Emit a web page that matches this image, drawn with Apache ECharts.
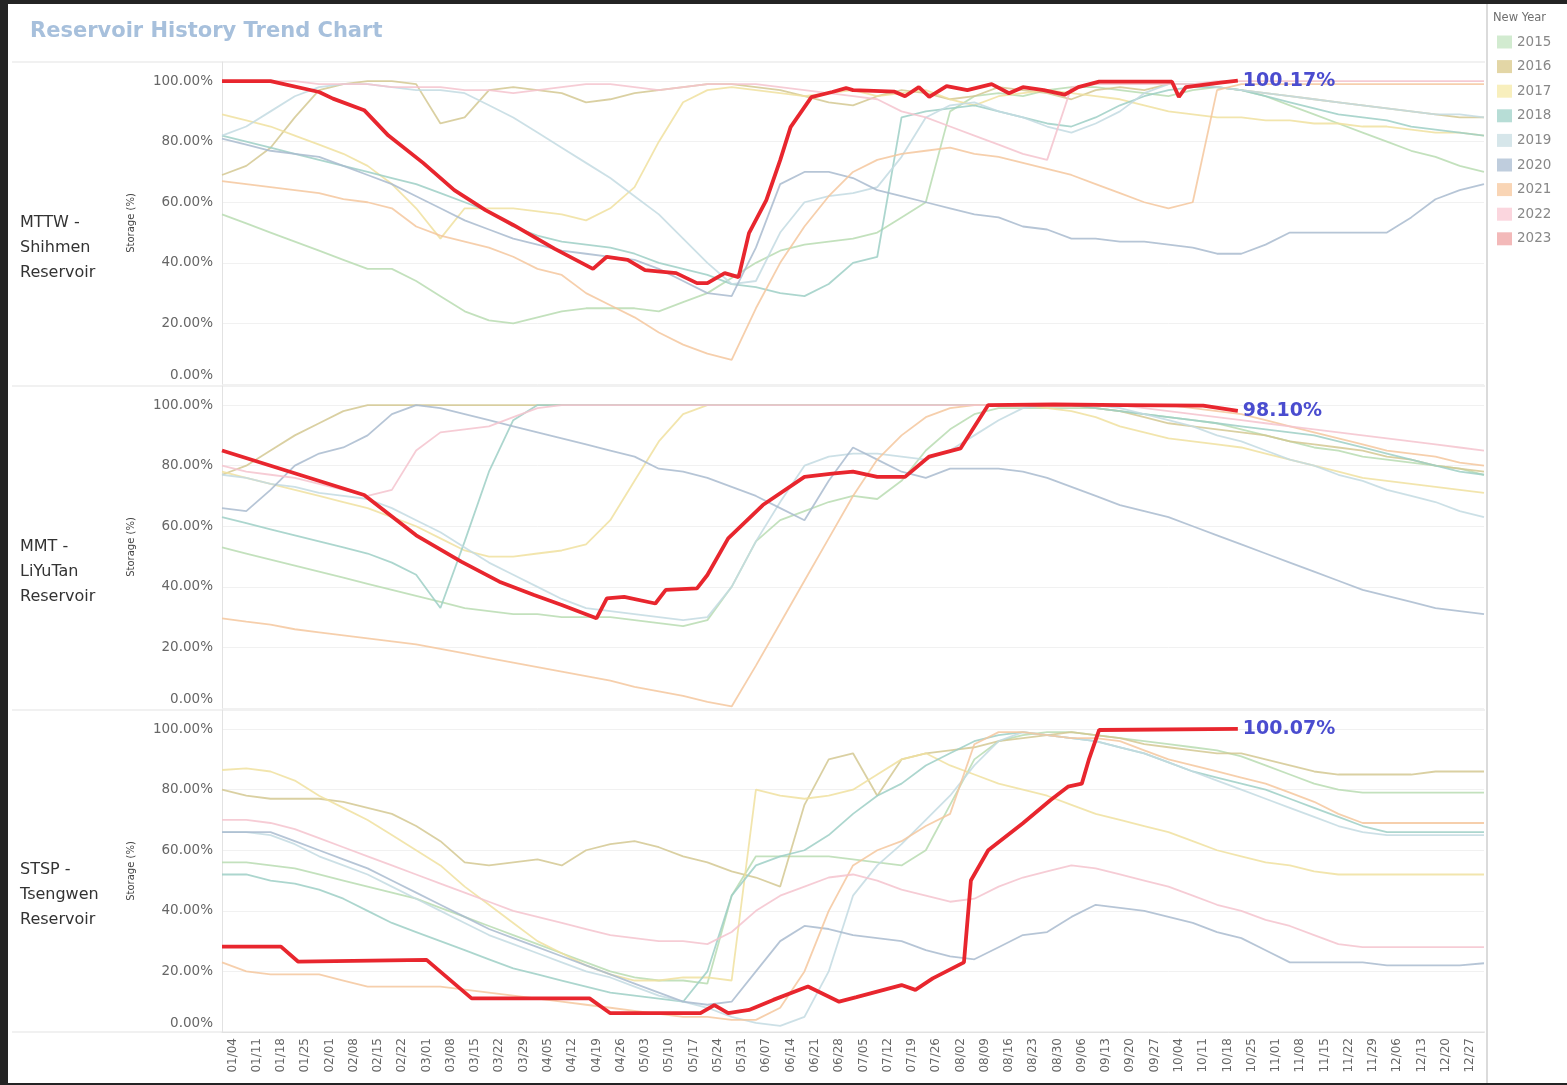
<!DOCTYPE html>
<html><head><meta charset="utf-8">
<script src="https://cdn.jsdelivr.net/npm/echarts@6/dist/echarts.min.js"></script>
<style>
html,body{margin:0;padding:0;background:#242424;width:1567px;height:1085px;overflow:hidden}
#c{position:absolute;left:8px;top:4px;width:1559px;height:1079px;background:#fff}
</style></head><body><div id="c"></div>
<script>
// ---------- categories / ticks ----------
const categories = [];
for (let d = 0; d < 365; d++) {
  const dt = new Date(Date.UTC(2023, 0, 1 + d));
  categories.push(String(dt.getUTCMonth() + 1).padStart(2, '0') + '/' + String(dt.getUTCDate()).padStart(2, '0'));
}
const tickLabels = ['01/04','01/11','01/18','01/25','02/01','02/08','02/15','02/22','03/01','03/08','03/15','03/22','03/29','04/05','04/12','04/19','04/26','05/03','05/10','05/17','05/24','05/31','06/07','06/14','06/21','06/28','07/05','07/12','07/19','07/26','08/02','08/09','08/16','08/23','08/30','09/06','09/13','09/20','09/27','10/04','10/11','10/18','10/25','11/01','11/08','11/15','11/22','11/29','12/06','12/13','12/20','12/27'];
const sampleDays = [0,7,14,21,28,35,42,49,56,63,70,77,84,91,98,105,112,119,126,133,140,147,154,161,168,175,182,189,196,203,210,217,224,231,238,245,252,259,266,273,280,287,294,301,308,315,322,329,336,343,350,357,364];
const reservoirs = ['MTTW -\nShihmen\nReservoir', 'MMT -\nLiYuTan\nReservoir', 'STSP -\nTsengwen\nReservoir'];
const years = ['2015','2016','2017','2018','2019','2020','2021','2022','2023'];
const yTicks = [0,20,40,60,80,100];

// ---------- MTTW - Shihmen (weekly samples) ----------
const shihmen2015 = [56,53,50,47,44,41,38,38,34,29,24,21,20,22,24,25,25,25,24,27,30,35,40,44,46,47,48,50,55,60,90,95,96,95,97,98,98,97,96,95,97,98,97,95,92,89,86,83,80,77,75,72,70];
const shihmen2016 = [69,72,78,88,97,99,100,100,99,86,88,97,98,97,96,93,94,96,97,98,99,99,98,97,95,93,92,95,97,96,94,95,98,97,96,94,97,98,97,99,99,98,97,96,95,94,93,92,91,90,89,88,88];
const shihmen2017 = [89,87,85,82,79,76,72,66,58,48,58,58,58,57,56,54,58,65,80,93,97,98,97,96,95,96,97,95,96,97,94,92,95,96,97,96,95,94,92,90,89,88,88,87,87,86,86,85,85,84,83,83,82];
const shihmen2018 = [82,80,78,76,74,72,70,68,66,63,60,57,52,49,47,46,45,43,40,38,36,33,32,30,29,33,40,42,88,90,91,92,90,88,86,85,88,92,95,97,98,98,97,95,93,91,89,88,87,85,84,83,82];
const shihmen2019 = [82,85,90,95,98,99,99,98,97,97,96,92,88,83,78,73,68,62,56,48,40,33,34,50,60,62,63,65,75,88,92,93,90,88,85,83,86,90,96,99,99,98,97,96,95,94,93,92,91,90,89,89,88];
const shihmen2020 = [81,79,77,76,75,72,69,66,62,58,54,51,48,46,44,43,42,41,38,34,30,29,45,66,70,70,68,64,62,60,58,56,55,52,51,48,48,47,47,46,45,43,43,46,50,50,50,50,50,55,61,64,66];
const shihmen2021 = [67,66,65,64,63,61,60,58,52,49,47,45,42,38,36,30,26,22,17,13,10,8,25,40,52,62,70,74,76,77,78,76,75,73,71,69,66,63,60,58,60,97,99,99,99,99,99,99,99,99,99,99,99];
const shihmen2022 = [100,100,100,100,99,99,99,98,98,98,97,97,96,97,98,99,99,98,97,98,99,99,99,98,97,96,95,94,90,88,85,82,79,76,74,98,99,99,99,99,99,100,100,100,100,100,100,100,100,100,100,100,100];
const shihmen2023Days = [0,14,28,32,41,48,58,67,76,84,96,107,111,117,122,131,137,140,145,149,152,157,161,164,170,176,180,182,194,197,201,204,209,215,222,227,231,237,243,247,253,274,276,278,288,293];
const shihmen2023 = [100,100,96.4,94.2,90.4,82,73,64,57.4,52.5,44.6,38,42,41,37.6,36.6,33.3,33.3,36.6,35.3,49.8,60.7,73.9,84.8,94.7,96.4,97.7,97,96.5,95,98,94.8,98.3,97,99,96,98,97,95.5,98,99.8,99.8,94.8,98,99.5,100.17];

// ---------- MMT - LiYuTan ----------
const liyutan2015 = [53,51,49,47,45,43,41,39,37,35,33,32,31,31,30,30,30,29,28,27,29,40,55,62,65,68,70,69,75,85,92,97,99,99,99,99,99,98,97,96,95,94,92,90,88,86,85,83,82,81,80,79,77];
const liyutan2016 = [77,80,85,90,94,98,100,100,100,100,100,100,100,100,100,100,100,100,100,100,100,100,100,100,100,100,100,100,100,100,100,100,100,100,100,100,99,98,96,94,93,92,91,90,88,87,86,85,83,82,80,79,78];
const liyutan2017 = [78,76,74,72,70,68,66,63,60,56,52,50,50,51,52,54,62,75,88,97,100,100,100,100,100,100,100,100,100,100,100,100,100,100,99,98,96,93,91,89,88,87,86,84,82,80,78,76,75,74,73,72,71];
const liyutan2018 = [63,61,59,57,55,53,51,48,44,33,55,78,95,100,100,100,100,100,100,100,100,100,100,100,100,100,100,100,100,100,100,100,100,100,100,100,99,98,97,96,95,94,93,92,91,90,88,86,84,82,80,78,77];
const liyutan2019 = [77,76,74,73,71,70,69,66,62,58,53,48,44,40,36,33,32,31,30,29,30,40,55,68,80,83,84,84,83,82,85,90,95,99,100,100,100,99,97,95,93,90,88,85,82,80,77,75,72,70,68,65,63];
const liyutan2020 = [66,65,72,80,84,86,90,97,100,99,97,95,93,91,89,87,85,83,79,78,76,73,70,66,62,75,86,82,78,76,79,79,79,78,76,73,70,67,65,63,60,57,54,51,48,45,42,39,37,35,33,32,31];
const liyutan2021 = [29.6,28.5,27.5,26,25,24,23,22,21,19.5,18,16.5,15,13.5,12,10.5,9,7,5.5,4,2,0.5,14,28,42,56,70,82,90,96,99,100,100,100,100,100,100,100,100,100,99,98,97,95,93,91,89,87,85,84,83,81,80];
const liyutan2022 = [80,78,77,76,74,72,70,72,85,91,92,93,96,99,100,100,100,100,100,100,100,100,100,100,100,100,100,100,100,100,100,100,100,100,100,100,100,100,99,98,97,96,95,94,93,92,91,90,89,88,87,86,85];
const liyutan2023Days = [0,41,56,69,80,90,98,108,111,116,125,128,137,140,146,156,168,176,182,189,197,204,213,221,240,260,283,293];
const liyutan2023 = [85,70.3,57,48.3,41.7,37.3,34,29.6,36.2,36.7,34.5,39,39.5,43.9,56,67,76.3,77.4,78,76.3,76.3,83,85.7,100,100.2,100,99.8,98.1];

// ---------- STSP - Tsengwen ----------
const tsengwen2015 = [56,56,55,54,52,50,48,46,44,41,38,35,32,29,26,23,20,18,17,17,16,45,58,58,58,58,57,56,55,60,75,90,96,98,99,99,98,97,96,95,94,93,91,88,85,82,80,79,79,79,79,79,79];
const tsengwen2016 = [80,78,77,77,77,76,74,72,68,63,56,55,56,57,55,60,62,63,61,58,56,53,51,48,75,90,92,78,90,92,93,94,96,97,98,99,98,97,95,94,93,92,92,90,88,86,85,85,85,85,86,86,86];
const tsengwen2017 = [86.5,87,86,83,78,74,70,65,60,55,48,42,36,30,26,22,19,17,17,18,18,17,80,78,77,78,80,85,90,92,88,85,82,80,78,75,72,70,68,66,63,60,58,56,55,53,52,52,52,52,52,52,52];
const tsengwen2018 = [52,52,50,49,47,44,40,36,33,30,27,24,21,19,17,15,13,12,11,10,20,45,55,58,60,65,72,78,82,88,92,96,98,99,98,97,96,94,92,89,86,84,82,80,77,74,71,68,66,66,66,66,66];
const tsengwen2019 = [66,66,65,62,58,55,52,48,44,40,36,32,29,26,23,20,18,15,12,10,8,5,3,2,5,20,45,55,62,70,78,88,96,99,98,97,96,94,92,89,86,83,80,77,74,71,68,66,65,65,65,65,65];
const tsengwen2020 = [66,66,66,63,60,57,54,50,46,42,38,34,31,28,25,22,19,16,13,10,9,10,20,30,35,34,32,31,30,27,25,24,28,32,33,38,42,41,40,38,36,33,31,27,23,23,23,23,22,22,22,22,22.7];
const tsengwen2021 = [23,20,19,19,19,17,15,15,15,15,14,13,12,11,10,9,8,7,6,5,5,4,4,8,20,40,55,60,63,68,72,95,99,99,98,97,97,96,93,90,88,86,84,82,79,76,72,69,69,69,69,69,69];
const tsengwen2022 = [70,70,69,67,64,61,58,55,52,49,46,43,40,38,36,34,32,31,30,30,29,33,40,45,48,51,52,50,47,45,43,44,48,51,53,55,54,52,50,48,45,42,40,37,35,32,29,28,28,28,28,28,28];
const tsengwen2023Days = [0,17,22,59,72,106,112,138,142,146,152,159,169,178,183,196,200,205,214,216,221,231,239,244,248,250,253,293];
const tsengwen2023 = [28.2,28.2,23.2,23.8,11.1,11.1,6.2,6.2,8.9,6.2,7.3,10.6,15,10,11.5,15.5,13.9,17.7,23,50,60,68.9,76.6,81,82,89.8,99.7,100.07];

// ---------- colours ----------
const lineColors = ['#b8dcb1','#d4c892','#f0e19f','#9ecfc5','#c3dbe2','#a9bbcf','#f4c79e','#f5c3ce','#e8262e'];
const legendColors = ['#d2ebd0','#e3d6a6','#f8efbd','#b7ddd6','#d6e6ea','#bfcddd','#f9d5b5','#fbd6de','#f3b9b9'];

const faded = [
  [shihmen2015, shihmen2016, shihmen2017, shihmen2018, shihmen2019, shihmen2020, shihmen2021, shihmen2022],
  [liyutan2015, liyutan2016, liyutan2017, liyutan2018, liyutan2019, liyutan2020, liyutan2021, liyutan2022],
  [tsengwen2015, tsengwen2016, tsengwen2017, tsengwen2018, tsengwen2019, tsengwen2020, tsengwen2021, tsengwen2022]
];
const current = [[shihmen2023Days, shihmen2023], [liyutan2023Days, liyutan2023], [tsengwen2023Days, tsengwen2023]];

const FONT = 'DejaVu Sans';
const tops = [58, 382, 706];
const H = 322;
const YMAX = 106.3;

const grids = [], xAxes = [], yAxes = [], series = [];
for (let r = 0; r < 3; r++) {
  grids.push({ left: 214, right: 83, top: tops[r], height: H });
  xAxes.push({
    type: 'category', gridIndex: r, data: categories, boundaryGap: false,
    axisTick: { show: false },
    axisLine: { show: r === 2, lineStyle: { color: '#e2e2e2' } },
    splitLine: { show: false },
    axisLabel: {
      show: r === 2, rotate: 90, margin: 6, fontSize: 12, color: '#666', fontFamily: FONT,
      interval: (idx, val) => tickLabels.indexOf(val) >= 0
    }
  });
  yAxes.push({
    type: 'value', gridIndex: r, min: 0, max: YMAX, interval: 20,
    name: 'Storage (%)', nameLocation: 'middle', nameGap: 86, nameRotate: 90,
    nameTextStyle: { fontSize: 10, color: '#444', fontFamily: FONT },
    axisLine: { show: true, lineStyle: { color: '#e2e2e2' } },
    axisTick: { show: false },
    splitLine: { lineStyle: { color: '#f1f1f1' } },
    axisLabel: {
      showMaxLabel: false, margin: 9, fontSize: 13.5, color: '#666', fontFamily: FONT,
      formatter: v => (v === 0 ? '{z|0.00%}' : (yTicks.indexOf(v) >= 0 ? v.toFixed(2) + '%' : '')),
      rich: { z: { fontSize: 13.5, color: '#666', fontFamily: FONT, padding: [0, 0, 18, 0] } }
    }
  });
  faded[r].forEach((vals, i) => {
    series.push({
      type: 'line', name: years[i], xAxisIndex: r, yAxisIndex: r,
      showSymbol: false, silent: true, z: 2,
      lineStyle: { width: 1.8, color: lineColors[i], opacity: 0.85 },
      itemStyle: { color: lineColors[i] },
      data: vals.map((v, k) => [categories[sampleDays[k]], v])
    });
  });
  const [days, vals] = current[r];
  series.push({
    type: 'line', name: '2023', xAxisIndex: r, yAxisIndex: r,
    showSymbol: false, silent: true, z: 10,
    lineStyle: { width: 3.8, color: lineColors[8] },
    itemStyle: { color: lineColors[8] },
    data: days.map((d, k) => [categories[d], vals[k]]),
    endLabel: {
      show: true, distance: 5, fontSize: 19, fontWeight: 'bold', color: '#4a4ccf', fontFamily: FONT,
      formatter: p => p.value[1].toFixed(2) + '%'
    }
  });
}

const graphics = [
  { type: 'text', x: 22, y: 28, style: { text: 'Reservoir History Trend Chart', fontSize: 21, fontWeight: 'bold', fill: '#a7c0dc', fontFamily: FONT, verticalAlign: 'middle' } },
  { type: 'text', x: 1485, y: 14, style: { text: 'New Year', fontSize: 11.5, fill: '#6f6f6f', fontFamily: FONT, verticalAlign: 'middle' } },
  { type: 'line', shape: { x1: 1479, y1: 0, x2: 1479, y2: 1079 }, style: { stroke: '#cfcfcf', lineWidth: 1.5 } }
];
[58, 382, 706, 1028].forEach(y => graphics.push({ type: 'line', shape: { x1: 4, y1: y, x2: 1477, y2: y }, style: { stroke: '#e3e3e3', lineWidth: 1.2 } }));
const labelCenters = [244, 568, 891];
reservoirs.forEach((t, r) => graphics.push({ type: 'text', x: 12, y: labelCenters[r], style: { text: t, fontSize: 16, lineHeight: 25, fill: '#333', fontFamily: FONT, verticalAlign: 'middle' } }));

const chart = echarts.init(document.getElementById('c'), null, { renderer: 'canvas' });
chart.setOption({
  animation: false,
  backgroundColor: '#fff',
  grid: grids, xAxis: xAxes, yAxis: yAxes, series: series,
  legend: {
    orient: 'vertical', left: 1484, top: 26, padding: 5, itemWidth: 15, itemHeight: 13, itemGap: 10.6,
    icon: 'rect', selectedMode: false,
    textStyle: { fontSize: 13.5, color: '#888', fontFamily: FONT },
    data: years.map((y, i) => ({ name: y, itemStyle: { color: legendColors[i] } }))
  },
  graphic: graphics
});
</script></body></html>
